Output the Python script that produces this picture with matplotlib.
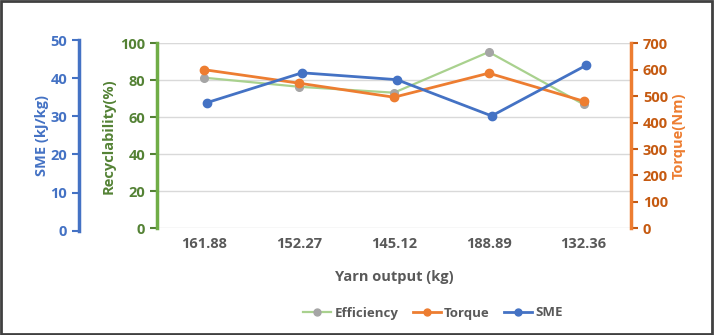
import matplotlib.pyplot as plt
from matplotlib.lines import Line2D

plt.rcParams['font.family'] = ['Open Sans', 'DejaVu Sans']
plt.rcParams['font.weight'] = 'bold'

yarn = ['161.88', '152.27', '145.12', '188.89', '132.36']
efficiency = [81.4, 76.5, 73.3, 95.3, 67.0]
torque = [600, 549, 496, 587, 481]
sme = [33.6, 41.4, 39.6, 30.1, 43.4]

BLUE = '#4472C4'
GREEN = '#70AD47'
DGREEN = '#548235'
ORANGE = '#ED7D31'
DORANGE = '#C55A11'
GREY = '#595959'
FS = 10.5

W, H = 714, 335
fig = plt.figure(figsize=(W / 100, H / 100), dpi=100)

# frame round the whole picture
fig.patches.append(plt.Rectangle((0.002, 0.004), 0.995, 0.992, transform=fig.transFigure,
                                 fill=False, ec='#404040', lw=2))

L, R, T, B = 157, 631, 43.3, 228.3
ax = fig.add_axes([L / W, 1 - B / H, (R - L) / W, (B - T) / H])
x = range(len(yarn))

ax.plot(x, efficiency, color='#A9D18E', lw=1.6, marker='o', ms=5.5,
        mfc='#A5A5A5', mec='#A5A5A5', zorder=3)
ax.set_xlim(-0.5, 4.5)
ax.set_ylim(0, 100)
ax.set_yticks(range(0, 101, 20))
ax.set_xticks(list(x))
ax.set_xticklabels(yarn, color=GREY, fontsize=FS, fontweight='bold')
ax.tick_params(axis='x', length=0, pad=6)
ax.tick_params(axis='y', colors=DGREEN, labelsize=FS, length=5, width=1.5, direction='out')
ax.grid(axis='y', color='#D9D9D9', lw=1)
ax.axhline(100, color='#BFBFBF', lw=1.5, zorder=1)
for s in ['top', 'right', 'bottom']:
    ax.spines[s].set_visible(False)
ax.spines['left'].set_color(GREEN)
ax.spines['left'].set_linewidth(2.5)
ax.set_ylabel('Recyclability(%)', color=DGREEN, fontsize=FS, fontweight='bold', labelpad=3)
ax.set_xlabel('Yarn output (kg)', color=GREY, fontsize=FS, fontweight='bold', labelpad=14)

# torque on the right
ax2 = ax.twinx()
ax2.plot(x, torque, color=ORANGE, lw=2, marker='o', ms=6, zorder=4)
ax2.set_ylim(0, 700)
ax2.set_yticks(range(0, 701, 100))
ax2.tick_params(axis='y', colors=DORANGE, labelsize=FS, length=5, width=1.5)
for s in ['top', 'left', 'bottom']:
    ax2.spines[s].set_visible(False)
ax2.spines['right'].set_color(ORANGE)
ax2.spines['right'].set_linewidth(2.5)
ax2.set_ylabel('Torque(Nm)', color=ORANGE, fontsize=FS, fontweight='bold', labelpad=3)

# SME on its own axis, spine out to the left
B3, T3 = 230.7, 40
ax3 = fig.add_axes([L / W, 1 - B3 / H, (R - L) / W, (B3 - T3) / H])
ax3.patch.set_visible(False)
ax3.plot(x, sme, color=BLUE, lw=2, marker='o', ms=6, zorder=5)
ax3.set_xlim(-0.53, 4.47)
ax3.set_ylim(0, 50)
ax3.set_yticks(range(0, 51, 10))
ax3.set_xticks([])
ax3.tick_params(axis='y', colors=BLUE, labelsize=FS, length=5, width=1.5)
for s in ['top', 'right', 'bottom']:
    ax3.spines[s].set_visible(False)
ax3.spines['left'].set_position(('axes', (79 - L) / (R - L)))
ax3.spines['left'].set_color(BLUE)
ax3.spines['left'].set_linewidth(2.5)
ax3.set_ylabel('SME (kJ/kg)', color=BLUE, fontsize=FS, fontweight='bold', labelpad=1)

handles = [
    Line2D([], [], color='#A9D18E', lw=1.6, marker='o', ms=5, mfc='#A5A5A5', mec='#A5A5A5'),
    Line2D([], [], color=ORANGE, lw=2, marker='o', ms=5),
    Line2D([], [], color=BLUE, lw=2, marker='o', ms=5),
]
leg = fig.legend(handles, ['Efficiency', 'Torque', 'SME'], ncol=3, frameon=False,
                 loc='center', bbox_to_anchor=(433 / W, 1 - 313 / H),
                 prop={'size': 9.5, 'weight': 'bold'},
                 handlelength=2.1, columnspacing=1.1, handletextpad=0.25)
for t in leg.get_texts():
    t.set_color(GREY)

fig.savefig('out.png', dpi=100)
